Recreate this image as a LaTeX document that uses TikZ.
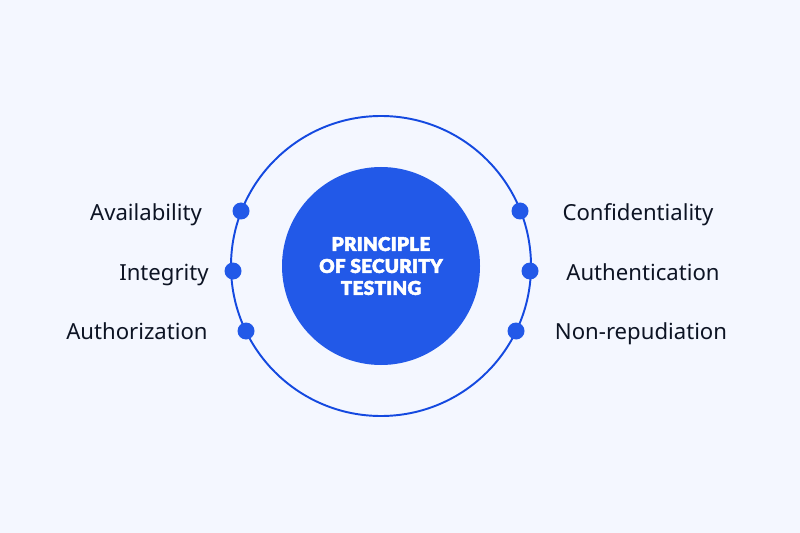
\documentclass[tikz,border=0pt]{standalone}
\usepackage{fontspec}
\setmainfont{Noto Sans}
\newfontfamily\titlefont[FakeBold=2.6, LetterSpace=1.5]{Lato Black}
\usetikzlibrary{positioning}
\definecolor{pagebg}{HTML}{F4F7FF}
\definecolor{ringblue}{HTML}{1449E0}
\definecolor{discblue}{HTML}{2259E8}
\definecolor{labelink}{HTML}{0D1424}
\tikzset{dot/.style = {circle, fill=discblue, inner sep=0, minimum size=17*0.02cm},
         lbl/.style = {text=labelink, font=\fontsize{12.6}{15}\selectfont, anchor=base, inner sep=0}}

\begin{document}
\begin{tikzpicture}[x=0.02cm, y=-0.02cm]
    \fill [pagebg] (0, 0) rectangle (800, 533);
    \useasboundingbox (0, 0) rectangle (800, 533);

    \node [circle, draw=ringblue, line width=1.1pt, inner sep=0, minimum size=300*0.02cm] (ring) at (381, 266) {};
    \node [circle, fill=discblue, inner sep=0, minimum size=198*0.02cm, text=white, align=center,
           font=\titlefont\fontsize{10.8}{12.5}\selectfont] (disc) at (381, 266) {PRINCIPLE\\OF SECURITY\\TESTING};

    \foreach \name/\x/\y in {avail/241/211, integ/233/271, autho/246/331,
                             confi/520/211, authe/530/271, nonre/516/331} {
      \node [dot] (\name) at (\x, \y) {};
    };

    \node [lbl] at (146, 221) {Availability};
    \node [lbl] at (164, 280) {Integrity};
    \node [lbl] at (137, 339) {Authorization};
    \node [lbl] at (638, 221) {Confidentiality};
    \node [lbl] at (643, 280) {Authentication};
    \node [lbl] at (641, 339) {Non-repudiation};
\end{tikzpicture}
\end{document}
